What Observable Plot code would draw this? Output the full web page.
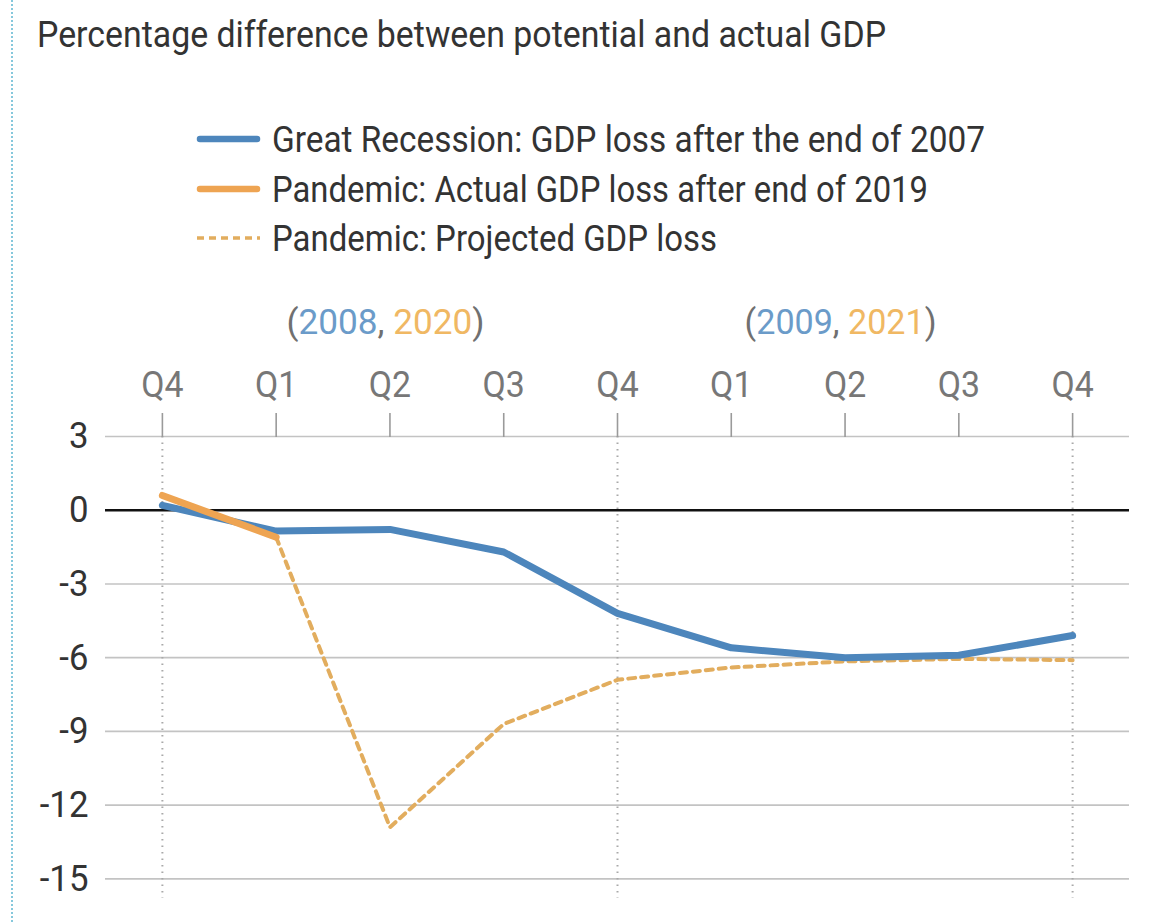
<!DOCTYPE html>
<html><head><meta charset="utf-8">
<script src="https://cdn.jsdelivr.net/npm/d3@7"></script>
<script src="https://cdn.jsdelivr.net/npm/@observablehq/plot@0.6"></script>
<style>
html,body{margin:0;padding:0;background:#fff;}
#wrap{position:relative;width:1165px;height:922px;overflow:hidden;background:#fff;}
#border{position:absolute;left:11px;top:0;height:922px;border-left:2px dotted #86c8dc;}
#header{position:absolute;left:0;top:0;}
#chart{position:absolute;left:0;top:350px;}
</style></head>
<body><div id="wrap"><div id="border"></div><svg id="header" width="1165" height="350"></svg><div id="chart"></div></div>
<script>
// ---- data ----
const title = "Percentage difference between potential and actual GDP";
const seriesNames = [
  "Great Recession: GDP loss after the end of 2007",
  "Pandemic: Actual GDP loss after end of 2019",
  "Pandemic: Projected GDP loss"
];
const quarters = ["Q4","Q1","Q2","Q3","Q4","Q1","Q2","Q3","Q4"];
const greatRecession = [0.2, -0.85, -0.78, -1.7, -4.2, -5.6, -6.0, -5.9, -5.1];
const pandemicActual = [0.6, -1.1];
const pandemicProjectedStart = 1; // projection begins at Q1
const pandemicProjected = [-1.1, -12.9, -8.7, -6.9, -6.4, -6.15, -6.05, -6.1];
const yTicks = [3, 0, -3, -6, -9, -12, -15];
const yearPairs = [["2008","2020"],["2009","2021"]];
const yearPairAt = [2, 6];
const dividerAt = [0, 4, 8];

// ---- style ----
const C = {blue:"#4d86bc", orange:"#eea452", proj:"#e2ad5e", blueText:"#6b9bc9", orangeText:"#f0b863", text:"#333", tick:"#777", paren:"#707070"};

function hasFont(name){
  const c = document.createElement("canvas").getContext("2d");
  const t = "Percentage difference 0123456789 Q4";
  c.font = "40px monospace"; const a = c.measureText(t).width;
  c.font = `40px "${name}", monospace`; return c.measureText(t).width !== a;
}
const FONT = ["Roboto","Liberation Sans Narrow","DejaVu Sans Condensed","Lato"].find(hasFont) || "sans-serif";

const gr = greatRecession.map((v,i)=>({i, v}));
const pa = pandemicActual.map((v,i)=>({i, v}));
const pp = pandemicProjected.map((v,k)=>({i:k+pandemicProjectedStart, v}));

const plot = Plot.plot({
  width: 1165, height: 572,
  marginLeft: 105, marginRight: 36, marginTop: 86, marginBottom: 24,
  style: {fontFamily: FONT, background: "transparent", overflow: "visible"},
  x: {type: "linear", domain: [-0.5, 8.5], axis: null},
  y: {domain: [-15.8, 3], axis: null},
  marks: [
    Plot.ruleY(yTicks.filter(d => d !== 0), {stroke: "#c3c3c3", strokeWidth: 1.6}),
    Plot.ruleX(dividerAt, {y1: 3, y2: -15.8, stroke: "#a9a9a9", strokeWidth: 2, strokeDasharray: "1.5,5"}),
    Plot.axisX(quarters.map((q,i)=>i), {anchor: "top", label: null, tickSize: 24, tickPadding: 16,
      tickFormat: i => quarters[i], fontSize: 36, stroke: "#9a9a9a", strokeWidth: 1.6, fill: C.tick}),
    Plot.axisY(yTicks, {anchor: "left", label: null, tickSize: 0, tickPadding: 17,
      tickFormat: d => String(d), fontSize: 37, fill: C.text}),
    Plot.ruleY([0], {stroke: "#111", strokeWidth: 2.6}),
    Plot.line(pp, {x: "i", y: "v", stroke: C.proj, strokeWidth: 4, strokeDasharray: "7,6"}),
    Plot.line(gr, {x: "i", y: "v", stroke: C.blue, strokeWidth: 7, strokeLinejoin: "round", strokeLinecap: "round"}),
    Plot.line(pa, {x: "i", y: "v", stroke: C.orange, strokeWidth: 7, strokeLinejoin: "round"})
  ]
});
document.getElementById("chart").appendChild(plot);
const xs = plot.scale("x");

// ---- header: title, legend, year labels ----
const hdr = d3.select("#header").style("font-family", FONT);
const t = hdr.append("text").attr("x", 37).attr("y", 47).attr("font-size", 36).attr("fill", C.text).text(title);
const k = 849 / t.node().getComputedTextLength();
t.attr("textLength", 849).attr("lengthAdjust", "spacingAndGlyphs");

const legendY = [139, 189, 238], legendW = [713, 656, 445];
const legendStyle = [
  {stroke: C.blue, w: 6.5, dash: null, cap: "round"},
  {stroke: C.orange, w: 6.5, dash: null, cap: "round"},
  {stroke: C.proj, w: 3.5, dash: "7,5", cap: "butt"}
];
seriesNames.forEach((name, r) => {
  const s = legendStyle[r];
  hdr.append("line").attr("x1", s.cap === "round" ? 200 : 197).attr("x2", s.cap === "round" ? 257 : 260)
    .attr("y1", legendY[r]).attr("y2", legendY[r]).attr("stroke", s.stroke).attr("stroke-width", s.w)
    .attr("stroke-linecap", s.cap).attr("stroke-dasharray", s.dash);
  hdr.append("text").attr("x", 272).attr("y", legendY[r] + 12.5).attr("font-size", 36).attr("fill", C.text)
    .attr("textLength", legendW[r]).attr("lengthAdjust", "spacingAndGlyphs").text(name);
});

// year labels: separate text pieces laid out side by side and condensed to the reference width
const yearW = [198, 192];
yearPairs.forEach((p, j) => {
  const parts = [["(", C.paren], [p[0], C.blueText], [",\u00a0", C.paren], [p[1], C.orangeText], [")", C.paren]];
  const nodes = parts.map(([s, col]) => hdr.append("text").attr("y", 334).attr("font-size", 35).attr("fill", col).text(s));
  const widths = nodes.map(n => n.node().getComputedTextLength());
  const total = d3.sum(widths), f = yearW[j] / total;
  let x = xs.apply(yearPairAt[j]) - 4 - yearW[j] / 2;
  nodes.forEach((n, i) => {
    const w = widths[i] * f;
    n.attr("x", x).attr("textLength", w).attr("lengthAdjust", "spacingAndGlyphs");
    x += w;
  });
});

// condense tick labels like the original narrow typeface
d3.select(plot).selectAll("text").each(function(){
  const w = this.getComputedTextLength();
  if (w > 0) { this.setAttribute("textLength", w * k); this.setAttribute("lengthAdjust", "spacingAndGlyphs"); }
});
</script>
</body></html>
